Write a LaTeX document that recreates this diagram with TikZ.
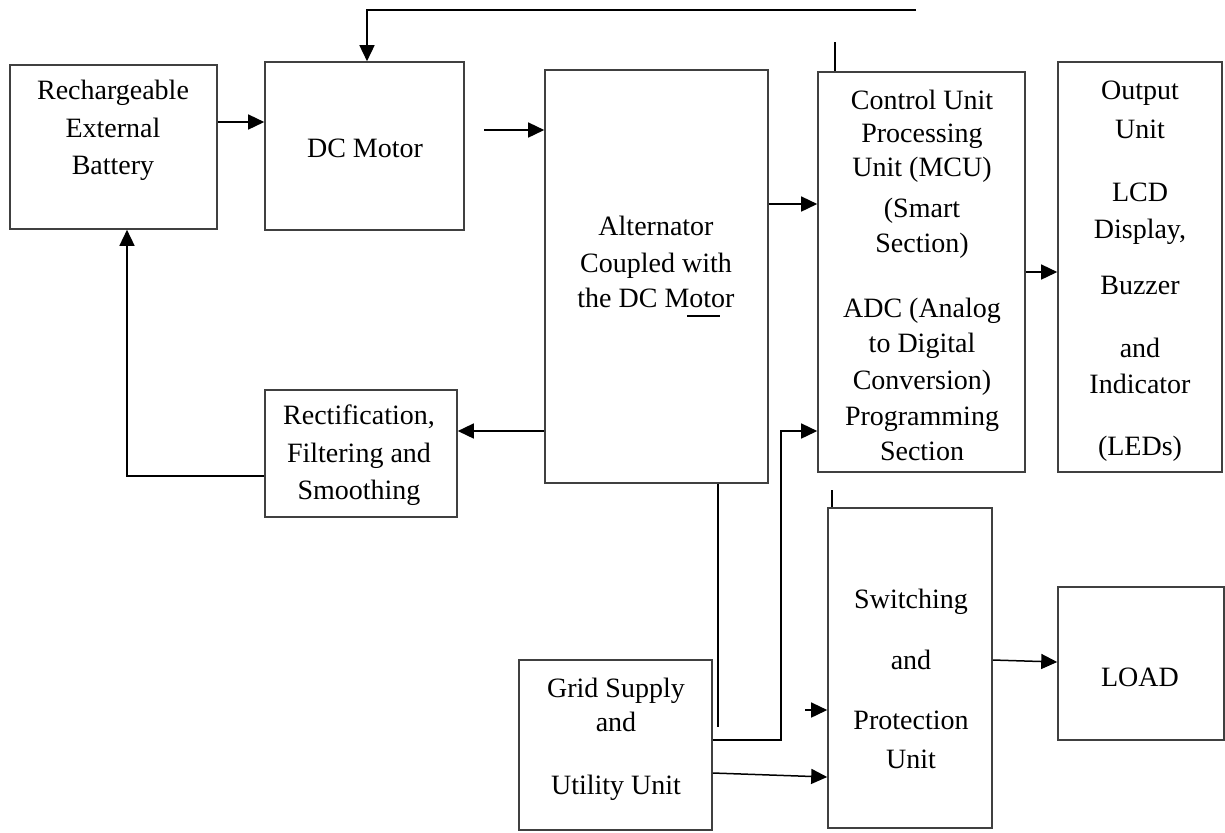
\documentclass[tikz,border=0pt]{standalone}
\usepackage{fontspec}
\setmainfont{Liberation Serif}
\usetikzlibrary{fit,arrows.meta}
\tikzset{
  box/.style={draw=black!75, line width=0.8pt, inner sep=0pt},
  lbl/.style={anchor=base, inner sep=0pt, font=\fontsize{14pt}{17pt}\selectfont},
  arr/.style={-{Triangle[length=8pt,width=7.5pt]}, line width=0.75pt},
  ln/.style={line width=0.75pt}
}
\newcommand\tline[4]{\node[lbl] (#1) at (#2,#3) {#4};}
\begin{document}
\begin{tikzpicture}[x=0.5pt,y=-0.5pt]
\useasboundingbox (0,0) rectangle (1225,832);
% boxes
\node[box, fit={(10,65) (217,229)}] (bat) {};
\node[box, fit={(265,62) (464,230)}] (dcm) {};
\node[box, fit={(545,70) (768,483)}] (alt) {};
\node[box, fit={(818,72) (1025,472)}] (ctl) {};
\node[box, fit={(1058,62) (1222,472)}] (out) {};
\node[box, fit={(265,390) (457,517)}] (rec) {};
\node[box, fit={(828,508) (992,828)}] (sw) {};
\node[box, fit={(1058,587) (1224,740)}] (load) {};
\node[box, fit={(519,660) (712,830)}] (grid) {};
% texts
\tline{b1}{113}{99}{Rechargeable}
\tline{b2}{113}{137}{External}
\tline{b3}{113}{174}{Battery}
\tline{d1}{365}{157}{DC Motor}
\tline{a1}{656}{235}{Alternator}
\tline{a2}{656}{272}{Coupled with}
\tline{a3}{656}{307}{the DC Motor}
\tline{c1}{922}{109}{Control Unit}
\tline{c2}{922}{142}{Processing}
\tline{c3}{922}{176}{Unit (MCU)}
\tline{c4}{922}{217}{(Smart}
\tline{c5}{922}{252}{Section)}
\tline{c6}{922}{317}{ADC (Analog}
\tline{c7}{922}{352}{to Digital}
\tline{c8}{922}{389}{Conversion)}
\tline{c9}{922}{425}{Programming}
\tline{c10}{922}{460}{Section}
\tline{o1}{1140}{99}{Output}
\tline{o2}{1140}{138}{Unit}
\tline{o3}{1140}{201}{LCD}
\tline{o4}{1140}{238}{Display,}
\tline{o5}{1140}{294}{Buzzer}
\tline{o6}{1140}{357}{and}
\tline{o7}{1140}{393}{Indicator}
\tline{o8}{1140}{455}{(LEDs)}
\tline{r1}{359}{424}{Rectification,}
\tline{r2}{359}{462}{Filtering and}
\tline{r3}{359}{499}{Smoothing}
\tline{g1}{616}{697}{Grid Supply}
\tline{g2}{616}{731}{and}
\tline{g3}{616}{794}{Utility Unit}
\tline{s1}{911}{608}{Switching}
\tline{s2}{911}{669}{and}
\tline{s3}{911}{729}{Protection}
\tline{s4}{911}{768}{Unit}
\tline{l1}{1140}{686}{LOAD}
% helper coordinates
\coordinate (y122) at (0,122);
\coordinate (y204) at (0,204);
\coordinate (y272) at (0,272);
\coordinate (y431) at (0,431);
\coordinate (y476) at (0,476);
\coordinate (y740) at (0,740);
\coordinate (y773) at (0,773);
\coordinate (y777) at (0,777);
\coordinate (y660) at (0,660);
\coordinate (y662) at (0,662);
\coordinate (x127) at (127,0);
\coordinate (x367) at (367,0);
\coordinate (m1) at (484,130);
\coordinate (fb) at (916,10);
\coordinate (k1) at (835,42);
\coordinate (k2) at (718,727);
\coordinate (j1) at (781,431);
\coordinate (k3) at (805,710);
\coordinate (k4) at (832,490);
\coordinate (u1) at (687,316);
\coordinate (u2) at (720,316);
% connectors
\draw[arr] (bat.east |- y122) -- (dcm.west |- y122);
\draw[arr] (m1) -- (alt.west |- m1);
\draw[arr] (alt.east |- y204) -- (ctl.west |- y204);
\draw[arr] (ctl.east |- y272) -- (out.west |- y272);
\draw[arr] (alt.west |- y431) -- (rec.east |- y431);
\draw[arr] (rec.west |- y476) -| (x127 |- bat.south);
\draw[arr] (fb) -| (x367 |- dcm.north);
\draw[ln] (k1) -- (k1 |- ctl.north);
\draw[ln] (k2 |- alt.south) -- (k2);
\draw[arr] (grid.east |- y740) -| (j1) -- (ctl.west |- j1);
\draw[arr] (grid.east |- y773) -- (sw.west |- y777);
\draw[arr] (k3) -- (sw.west |- k3);
\draw[ln] (k4) -- (k4 |- sw.north);
\draw[arr] (sw.east |- y660) -- (load.west |- y662);
\draw[ln] (u1) -- (u2);
\end{tikzpicture}
\end{document}
